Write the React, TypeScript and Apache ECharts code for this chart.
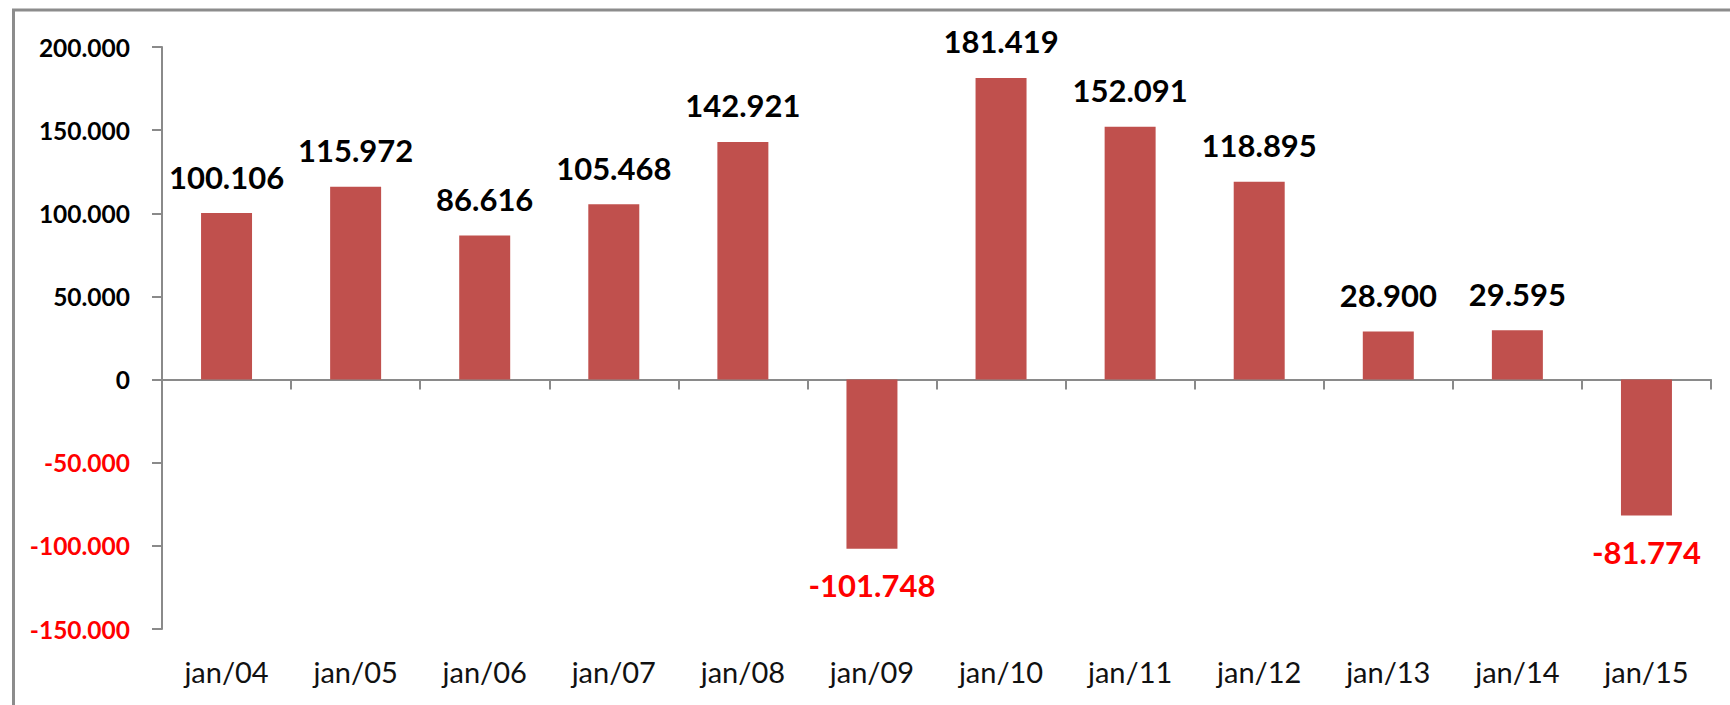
import React, { useEffect, useRef } from "react";
import * as echarts from "echarts";

const categories = ["jan/04", "jan/05", "jan/06", "jan/07", "jan/08", "jan/09", "jan/10", "jan/11", "jan/12", "jan/13", "jan/14", "jan/15"];
const values = [100106, 115972, 86616, 105468, 142921, -101748, 181419, 152091, 118895, 28900, 29595, -81774];
const yMin = -150000;
const yMax = 200000;
const yStep = 50000;

const FONT = "Lato, 'Open Sans', sans-serif";

function fmt(n: number): string {
  const neg = n < 0;
  const s = Math.abs(Math.round(n)).toString();
  const out = s.replace(/\B(?=(\d{3})+(?!\d))/g, ".");
  return (neg ? "-" : "") + out;
}

export default function App() {
  const ref = useRef<HTMLDivElement>(null);
  useEffect(() => {
    if (!ref.current) return;
    const chart = echarts.init(ref.current, null, { renderer: "svg" });
    const data = values.map((v) =>
      v < 0
        ? { value: v, label: { position: "bottom", distance: 21, color: "#FF0000" } }
        : { value: v }
    );
    chart.setOption({
      animation: false,
      backgroundColor: "#ffffff",
      grid: { left: 162, right: 19, top: 47, bottom: 76, containLabel: false },
      graphic: [
        {
          type: "polyline",
          shape: { points: [[13.5, 705], [13.5, 10], [1730, 10]] },
          style: { stroke: "#8c8c8c", lineWidth: 3, fill: "none" },
          z: 100,
        },
      ],
      xAxis: [
        {
          type: "category",
          data: categories,
          axisLine: { show: true, onZero: true, lineStyle: { color: "#8a8a8a", width: 2 } },
          axisTick: { show: true, length: 10, lineStyle: { color: "#8a8a8a", width: 2 } },
          axisLabel: { show: false },
          splitLine: { show: false },
        },
        {
          type: "category",
          data: categories,
          position: "bottom",
          axisLine: { show: false, onZero: false },
          axisTick: { show: false },
          axisLabel: {
            show: true,
            margin: 28,
            fontFamily: FONT,
            fontSize: 29,
            color: "#111111",
          },
          splitLine: { show: false },
        },
      ],
      yAxis: {
        type: "value",
        min: yMin,
        max: yMax,
        interval: yStep,
        axisLine: { show: true, lineStyle: { color: "#8a8a8a", width: 2 } },
        axisTick: { show: true, length: 10, lineStyle: { color: "#8a8a8a", width: 2 } },
        splitLine: { show: false },
        axisLabel: {
          margin: 32,
          fontFamily: FONT,
          fontSize: 24.5,
          fontWeight: "bold",
          color: (v: any) => (Number(v) < 0 ? "#FF0000" : "#000000"),
          formatter: (v: number) => fmt(v),
        },
      },
      series: [
        {
          type: "bar",
          xAxisIndex: 0,
          data,
          barWidth: "39.5%",
          itemStyle: { color: "#C0504D" },
          label: {
            show: true,
            position: "top",
            distance: 21,
            fontFamily: FONT,
            fontSize: 31,
            fontWeight: "bold",
            color: "#000000",
            formatter: (p: any) => fmt(p.value),
          },
        },
      ],
    });
    return () => chart.dispose();
  }, []);
  return (
    <div
      ref={ref}
      style={{ position: "fixed", left: 0, top: 0, width: 1730, height: 705, background: "#fff" }}
    />
  );
}
